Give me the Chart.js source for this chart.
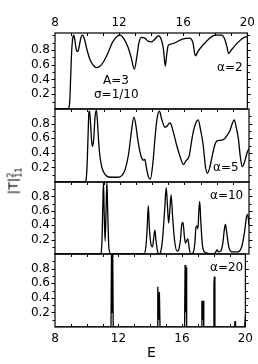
<!DOCTYPE html>
<html>
<head>
<meta charset="UTF-8">
<title>|T|² vs E</title>
<script src="https://cdn.jsdelivr.net/npm/chart.js"></script>
<style>
  body { margin: 0; background: #fff; }
  #wrap { position: relative; width: 258px; height: 364px; font-family: 'DejaVu Sans', sans-serif; color: #000; }
  canvas { position: absolute; left: 0; top: 0; }
  .lbl { position: absolute; font-size: 12px; line-height: 1; white-space: nowrap; }
  #ytitle { position: absolute; left: 15px; top: 181px; font-size: 13px; line-height: 1; white-space: nowrap;
            transform: translate(-50%, -50%) rotate(-90deg); }
  #ytitle .ss { display: inline-block; vertical-align: -4px; font-size: 8px; line-height: 8px; text-align: left; }
</style>
</head>
<body>
<div id="wrap">
  <canvas id="p1" width="258" height="364"></canvas>
  <canvas id="p2" width="258" height="364"></canvas>
  <canvas id="p3" width="258" height="364"></canvas>
  <canvas id="p4" width="258" height="364"></canvas>

  <div class="lbl" style="left:103px; top:74px;">A=3</div>
  <div class="lbl" style="left:94px; top:88px;">σ=1/10</div>
  <div class="lbl" style="left:217px; top:61px;">α=2</div>
  <div class="lbl" style="left:213px; top:161px;">α=5</div>
  <div class="lbl" style="left:210px; top:189px;">α=10</div>
  <div class="lbl" style="left:210px; top:261px;">α=20</div>
  <div class="lbl" style="left:147px; top:345px; font-size:14px;">E</div>
  <div id="ytitle">|T|<span class="ss">2<br>11</span></div>
</div>

<script>
// tick values
const eLabels = [8, 12, 16, 20];
const eMinor = [9, 10, 11, 12, 13, 14, 15, 16, 17, 18, 19];
const tLabels = [0.2, 0.4, 0.6, 0.8];
const tMinor = [0.1, 0.2, 0.3, 0.4, 0.5, 0.6, 0.7, 0.8, 0.9, 1.0];

// [E, |T|^2], one list per alpha
const alpha2 = [[8,0],[8.8,0],[8.87,0.02],[8.93,0.15],[8.98,0.45],[9.04,0.78],[9.1,0.95],[9.17,1.0],[9.24,0.93],
  [9.32,0.81],[9.42,0.78],[9.52,0.86],[9.62,0.97],[9.71,1.0],[9.82,0.96],[10.0,0.8],[10.2,0.66],[10.4,0.59],
  [10.6,0.56],[10.8,0.58],[11.0,0.63],[11.3,0.76],[11.6,0.91],[11.9,0.99],[12.05,1.0],[12.3,0.95],[12.55,0.84],
  [12.75,0.7],[12.95,0.54],[13.1,0.7],[13.22,0.88],[13.38,0.97],[13.6,0.96],[13.8,0.92],[14.0,0.91],[14.2,0.94],
  [14.45,0.99],[14.62,0.95],[14.76,0.82],[14.88,0.58],[14.96,0.72],[15.06,0.86],[15.25,0.88],[15.5,0.9],[16.0,0.95],
  [16.4,0.96],[16.6,0.9],[16.76,0.72],[16.92,0.78],[17.2,0.86],[17.6,0.95],[18.0,1.0],[18.4,1.0],[18.6,0.94],
  [18.74,0.83],[18.83,0.75],[19.0,0.8],[19.4,0.9],[19.8,0.97],[20,0.98]];

const alpha5 = [[8,0],[9.85,0],[9.92,0.03],[9.98,0.2],[10.04,0.6],[10.1,0.96],[10.14,0.97],[10.2,0.8],[10.27,0.55],
  [10.33,0.49],[10.4,0.6],[10.48,0.9],[10.56,0.98],[10.62,0.85],[10.7,0.55],[10.78,0.35],[10.9,0.2],[11.0,0.14],
  [11.2,0.08],[11.5,0.065],[11.9,0.065],[12.15,0.09],[12.35,0.18],[12.55,0.38],[12.72,0.68],[12.88,0.89],[13.0,0.78],
  [13.12,0.58],[13.25,0.42],[13.38,0.32],[13.48,0.3],[13.56,0.31],[13.65,0.2],[13.78,0.07],[13.9,0.04],[14.05,0.25],
  [14.2,0.64],[14.32,0.88],[14.46,0.97],[14.6,0.86],[14.8,0.75],[14.95,0.77],[15.08,0.81],[15.16,0.8],[15.3,0.7],
  [15.53,0.5],[15.75,0.34],[15.94,0.24],[16.1,0.29],[16.3,0.36],[16.51,0.64],[16.7,0.8],[16.86,0.85],[17.0,0.72],
  [17.17,0.5],[17.3,0.22],[17.42,0.12],[17.55,0.18],[17.69,0.32],[17.85,0.48],[18.0,0.56],[18.2,0.57],[18.41,0.58],
  [18.62,0.63],[18.83,0.71],[18.98,0.81],[19.09,0.85],[19.2,0.76],[19.34,0.6],[19.46,0.35],[19.58,0.21],
  [19.72,0.27],[19.88,0.4],[20,0.46]];

const alpha10 = [[8,0],[10.8,0],[10.9,0.15],[10.96,0.7],[11.0,1.0],[11.04,0.6],[11.1,0.18],[11.16,0.6],[11.21,1.0],
  [11.26,0.6],[11.33,0.1],[11.45,0],[13.5,0],[13.62,0.1],[13.7,0.35],[13.77,0.67],[13.84,0.35],[13.95,0.12],
  [14.03,0.1],[14.12,0.25],[14.18,0.33],[14.24,0.2],[14.35,0.03],[14.45,0],[14.55,0.04],[14.65,0.2],[14.78,0.6],
  [14.88,0.92],[14.96,0.65],[15.03,0.43],[15.1,0.6],[15.18,0.82],[15.28,0.5],[15.4,0.18],[15.55,0.04],[15.65,0.06],
  [15.75,0.18],[15.85,0.42],[15.92,0.44],[16.0,0.25],[16.07,0.15],[16.15,0.19],[16.22,0.21],[16.3,0.08],[16.4,0],
  [16.55,0.02],[16.65,0.15],[16.72,0.37],[16.79,0.39],[16.84,0.35],[16.9,0.6],[16.95,0.73],[17.02,0.45],[17.12,0.12],
  [17.3,0.02],[17.8,0],[17.95,0.03],[18.03,0.06],[18.1,0.03],[18.25,0.04],[18.38,0.15],[18.48,0.35],[18.54,0.41],
  [18.62,0.3],[18.75,0.1],[18.95,0.03],[19.3,0.03],[19.55,0.1],[19.72,0.3],[19.85,0.52],[19.92,0.55],[20,0.4]];

const alpha20 = [[8,0],[11.53,0],[11.56,1.0],[11.6,0.2],[11.64,1.0],[11.67,0],[14.45,0],[14.48,0.55],[14.53,0.1],
  [14.58,0.48],[14.62,0],[16.17,0],[16.2,0.85],[16.24,0.2],[16.27,0.82],[16.3,0],[17.22,0],[17.26,0.36],[17.3,0.1],
  [17.34,0.36],[17.38,0],[17.98,0],[18.02,0.6],[18.05,0.69],[18.08,0],[19.32,0],[19.35,0.08],[19.38,0],[19.95,0],
  [19.98,0.08],[20,0.05]];

const tickFont = { family: 'DejaVu Sans', size: 12 };

// box + inward x ticks + outward y ticks
const framePlugin = {
  id: 'frame',
  afterDatasetsDraw(chart, args, opts) {
    const { ctx, chartArea: a, scales: { x, y } } = chart;
    ctx.save();
    ctx.strokeStyle = '#000';
    ctx.lineWidth = 1.2;
    ctx.strokeRect(a.left, a.top, a.right - a.left, a.bottom - a.top);
    ctx.lineWidth = 1;
    ctx.beginPath();
    eMinor.forEach(v => {
      const px = Math.round(x.getPixelForValue(v)) + 0.5;
      ctx.moveTo(px, a.top); ctx.lineTo(px, a.top + 3);
      if (opts.bottomTicks) { ctx.moveTo(px, a.bottom); ctx.lineTo(px, a.bottom - 3); }
    });
    tMinor.forEach(v => {
      if (v > y.max - 0.02) return;
      const py = Math.round(y.getPixelForValue(v)) + 0.5;
      const len = tLabels.includes(v) ? 3.5 : 2.5;
      ctx.moveTo(a.left, py); ctx.lineTo(a.left - len, py);
      ctx.moveTo(a.right, py); ctx.lineTo(a.right + len, py);
    });
    ctx.stroke();
    ctx.restore();
  }
};

function makePanel(id, pts, cfg) {
  return new Chart(document.getElementById(id), {
    type: 'line',
    data: {
      datasets: [{
        data: pts.map(p => ({ x: p[0], y: p[1] })),
        borderColor: '#000',
        borderWidth: cfg.lw,
        pointRadius: 0,
        fill: false,
        tension: 0,
        cubicInterpolationMode: cfg.smooth ? 'monotone' : 'default'
      }]
    },
    options: {
      responsive: false,
      animation: false,
      devicePixelRatio: 1,
      layout: { padding: { left: 0, right: 9, top: cfg.padTop, bottom: cfg.padBottom } },
      plugins: {
        legend: { display: false },
        tooltip: { enabled: false },
        frame: { bottomTicks: cfg.bottomTicks }
      },
      scales: {
        x: {
          type: 'linear',
          position: cfg.xPos,
          display: cfg.xLabels,
          min: 8, max: 20,
          afterBuildTicks: s => { s.ticks = eLabels.map(v => ({ value: v })); },
          afterFit: s => { s.height = cfg.xLabels ? 20 : 0; },
          grid: { display: false, drawTicks: false },
          border: { display: false },
          ticks: { font: tickFont, color: '#000', padding: cfg.xPad, maxRotation: 0, autoSkip: false }
        },
        y: {
          type: 'linear',
          min: 0, max: cfg.ymax,
          afterBuildTicks: s => { s.ticks = tLabels.map(v => ({ value: v })); },
          afterFit: s => { s.width = 55; },
          grid: { display: false, drawTicks: false },
          border: { display: false },
          ticks: { font: tickFont, color: '#000', padding: 5, autoSkip: false, callback: v => v.toFixed(1) }
        }
      }
    },
    plugins: [framePlugin]
  });
}

makePanel('p1', alpha2,  { padTop: 13,  padBottom: 255, xPos: 'top',    xLabels: true,  xPad: 3, ymax: 1.03, smooth: true,  lw: 1.3, bottomTicks: false });
makePanel('p2', alpha5,  { padTop: 109, padBottom: 182, xPos: 'bottom', xLabels: false, xPad: 3, ymax: 1.0,  smooth: true,  lw: 1.3, bottomTicks: false });
makePanel('p3', alpha10, { padTop: 182, padBottom: 110, xPos: 'bottom', xLabels: false, xPad: 3, ymax: 1.0,  smooth: true,  lw: 1.3, bottomTicks: false });
makePanel('p4', alpha20, { padTop: 254, padBottom: 17,  xPos: 'bottom', xLabels: true,  xPad: 5, ymax: 1.0,  smooth: false, lw: 1.3, bottomTicks: true });
</script>
</body>
</html>
